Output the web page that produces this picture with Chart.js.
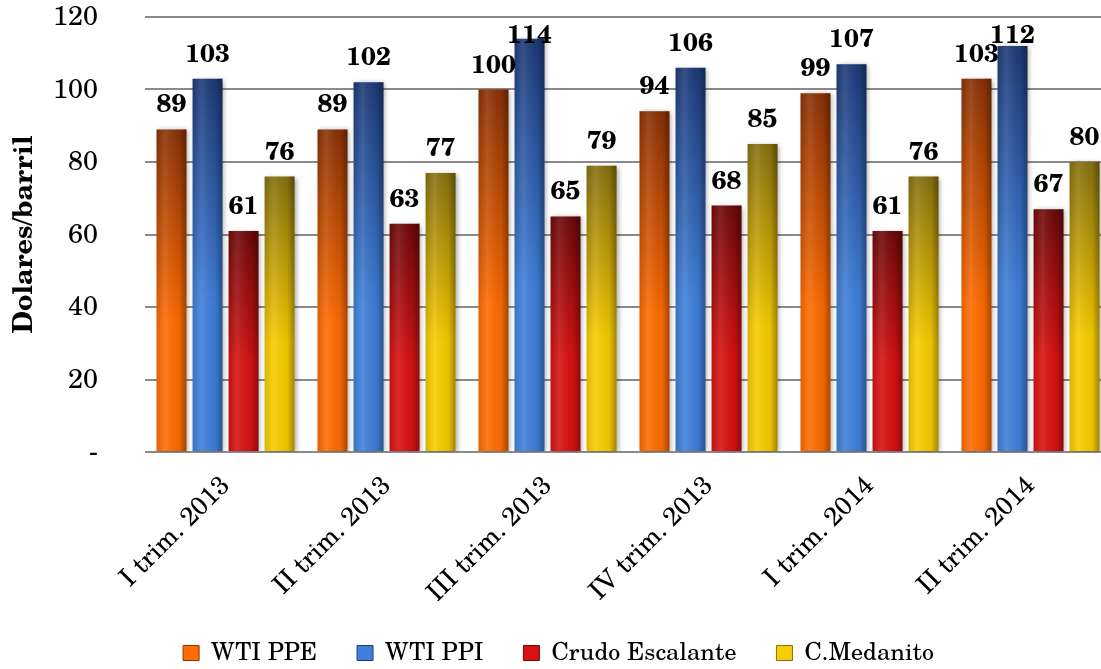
<!DOCTYPE html>
<html>
<head>
<meta charset="utf-8">
<script src="https://cdn.jsdelivr.net/npm/chart.js@4"></script>
<style>
  html, body { margin: 0; padding: 0; background: #fff; overflow: hidden; }
  #wrap { width: 1111px; height: 669px; }
</style>
</head>
<body>
<div id="wrap"><canvas id="chart"></canvas></div>
<script>
// ── Data ─────────────────────────────────────────────────────
const quarters = ["I trim. 2013", "II trim. 2013", "III trim. 2013", "IV trim. 2013", "I trim. 2014", "II trim. 2014"];
const wtiPPE = [89, 89, 100, 94, 99, 103];
const wtiPPI = [103, 102, 114, 106, 107, 112];
const crudoEscalante = [61, 63, 65, 68, 61, 67];
const cMedanito = [76, 77, 79, 85, 76, 80];
const yTicks = [0, 20, 40, 60, 80, 100, 120];
const yTitle = "Dolares/barril";

// ── Styles ───────────────────────────────────────────────────
const serif = "'TeX Gyre Schola', 'Century Schoolbook L', 'DejaVu Serif', serif";
const gridColor = "#8a8a8a";
// [top, bottom] colours of each bar's vertical gradient
const palette = [
    ["#8a3106", "#ff6c02"],
    ["#1e3a78", "#4080da"],
    ["#6e0a0a", "#d81212"],
    ["#867010", "#f8cc00"]
];

function barFill(idx) {
    return function (c) {
        const chart = c.chart;
        const y = chart.scales.y;
        if (c.type !== "data" || !y) return palette[idx][1];
        const top = y.getPixelForValue(c.raw);
        const base = y.getPixelForValue(0);
        if (!isFinite(top) || !isFinite(base) || top === base) return palette[idx][1];
        const g = chart.ctx.createLinearGradient(0, top, 0, base);
        g.addColorStop(0, palette[idx][0]);
        g.addColorStop(0.6, palette[idx][1]);
        g.addColorStop(1, palette[idx][1]);
        return g;
    };
}

// soft drop shadow behind the bars
const shadowPlugin = {
    id: "barShadow",
    beforeDatasetDraw(chart) {
        const ctx = chart.ctx;
        ctx.save();
        ctx.shadowColor = "rgba(0,0,0,0.35)";
        ctx.shadowBlur = 5;
        ctx.shadowOffsetX = 2;
        ctx.shadowOffsetY = 1;
    },
    afterDatasetDraw(chart) {
        chart.ctx.restore();
    }
};

// horizontal cylinder shading on top of each bar
const shadePlugin = {
    id: "shade",
    afterDatasetsDraw(chart) {
        const ctx = chart.ctx;
        chart.data.datasets.forEach((ds, i) => {
            chart.getDatasetMeta(i).data.forEach(bar => {
                const left = bar.x - bar.width / 2;
                const g = ctx.createLinearGradient(left, 0, left + bar.width, 0);
                g.addColorStop(0, "rgba(0,0,0,0.12)");
                g.addColorStop(0.3, "rgba(255,255,255,0.10)");
                g.addColorStop(0.75, "rgba(0,0,0,0.05)");
                g.addColorStop(1, "rgba(0,0,0,0.35)");
                ctx.save();
                ctx.fillStyle = g;
                ctx.fillRect(left, bar.y, bar.width, bar.base - bar.y);
                ctx.restore();
            });
        });
    }
};

// value labels above bars
const valuePlugin = {
    id: "values",
    afterDatasetsDraw(chart) {
        const ctx = chart.ctx;
        ctx.save();
        ctx.font = "bold 26px " + serif;
        ctx.fillStyle = "#000";
        ctx.textAlign = "center";
        ctx.textBaseline = "alphabetic";
        chart.data.datasets.forEach((ds, i) => {
            chart.getDatasetMeta(i).data.forEach((bar, j) => {
                const ty = Math.max(bar.y - 17, 43);
                ctx.fillText(String(ds.data[j]), bar.x, ty);
            });
        });
        ctx.restore();
    }
};

// rotated y axis title, at the far left
const yTitlePlugin = {
    id: "yTitle",
    afterDraw(chart) {
        const a = chart.chartArea;
        const ctx = chart.ctx;
        ctx.save();
        ctx.translate(24, (a.top + a.bottom) / 2);
        ctx.rotate(-Math.PI / 2);
        ctx.font = "bold 27px " + serif;
        ctx.fillStyle = "#000";
        ctx.textAlign = "center";
        ctx.textBaseline = "middle";
        ctx.fillText(yTitle, 0, 0);
        ctx.restore();
    }
};

const common = { categoryPercentage: 0.895, barPercentage: 0.83, borderWidth: 0 };

new Chart(document.getElementById("chart"), {
    type: "bar",
    data: {
        labels: quarters,
        datasets: [
            { label: "WTI PPE", data: wtiPPE, backgroundColor: barFill(0), ...common },
            { label: "WTI PPI", data: wtiPPI, backgroundColor: barFill(1), ...common },
            { label: "Crudo Escalante", data: crudoEscalante, backgroundColor: barFill(2), ...common },
            { label: "C.Medanito", data: cMedanito, backgroundColor: barFill(3), ...common }
        ]
    },
    options: {
        responsive: true,
        maintainAspectRatio: false,
        animation: false,
        devicePixelRatio: 1,
        layout: { padding: { left: 6, right: 0, top: 4, bottom: -6 } },
        plugins: {
            legend: {
                position: "bottom",
                labels: {
                    font: { family: serif, size: 24 },
                    color: "#000",
                    boxWidth: 16,
                    boxHeight: 15,
                    padding: 40,
                    generateLabels(chart) {
                        return chart.data.datasets.map((ds, i) => ({
                            text: ds.label,
                            fillStyle: palette[i][1],
                            strokeStyle: palette[i][0],
                            lineWidth: 1,
                            datasetIndex: i
                        }));
                    }
                }
            },
            tooltip: { enabled: false }
        },
        scales: {
            x: {
                grid: { display: false, drawTicks: false },
                border: { display: false },
                afterFit(axis) {
                    axis.paddingLeft = 0;
                    axis.paddingRight = 0;
                    axis.height = 149;
                },
                ticks: {
                    font: { family: serif, size: 26 },
                    color: "#000",
                    minRotation: 45,
                    maxRotation: 45,
                    padding: 18
                }
            },
            y: {
                min: 0,
                max: 120,
                afterBuildTicks(axis) { axis.ticks = yTicks.map(v => ({ value: v })); },
                afterFit(axis) {
                    axis.paddingTop = 17;
                    axis.paddingBottom = 0;
                },
                grid: { color: gridColor, lineWidth: 2, drawTicks: false },
                border: { display: false },
                ticks: {
                    font: { family: serif, size: 27 },
                    color: "#000",
                    padding: 47,
                    callback: v => (v === 0 ? "-" : v)
                }
            }
        }
    },
    plugins: [shadowPlugin, shadePlugin, valuePlugin, yTitlePlugin]
});
</script>
</body>
</html>
